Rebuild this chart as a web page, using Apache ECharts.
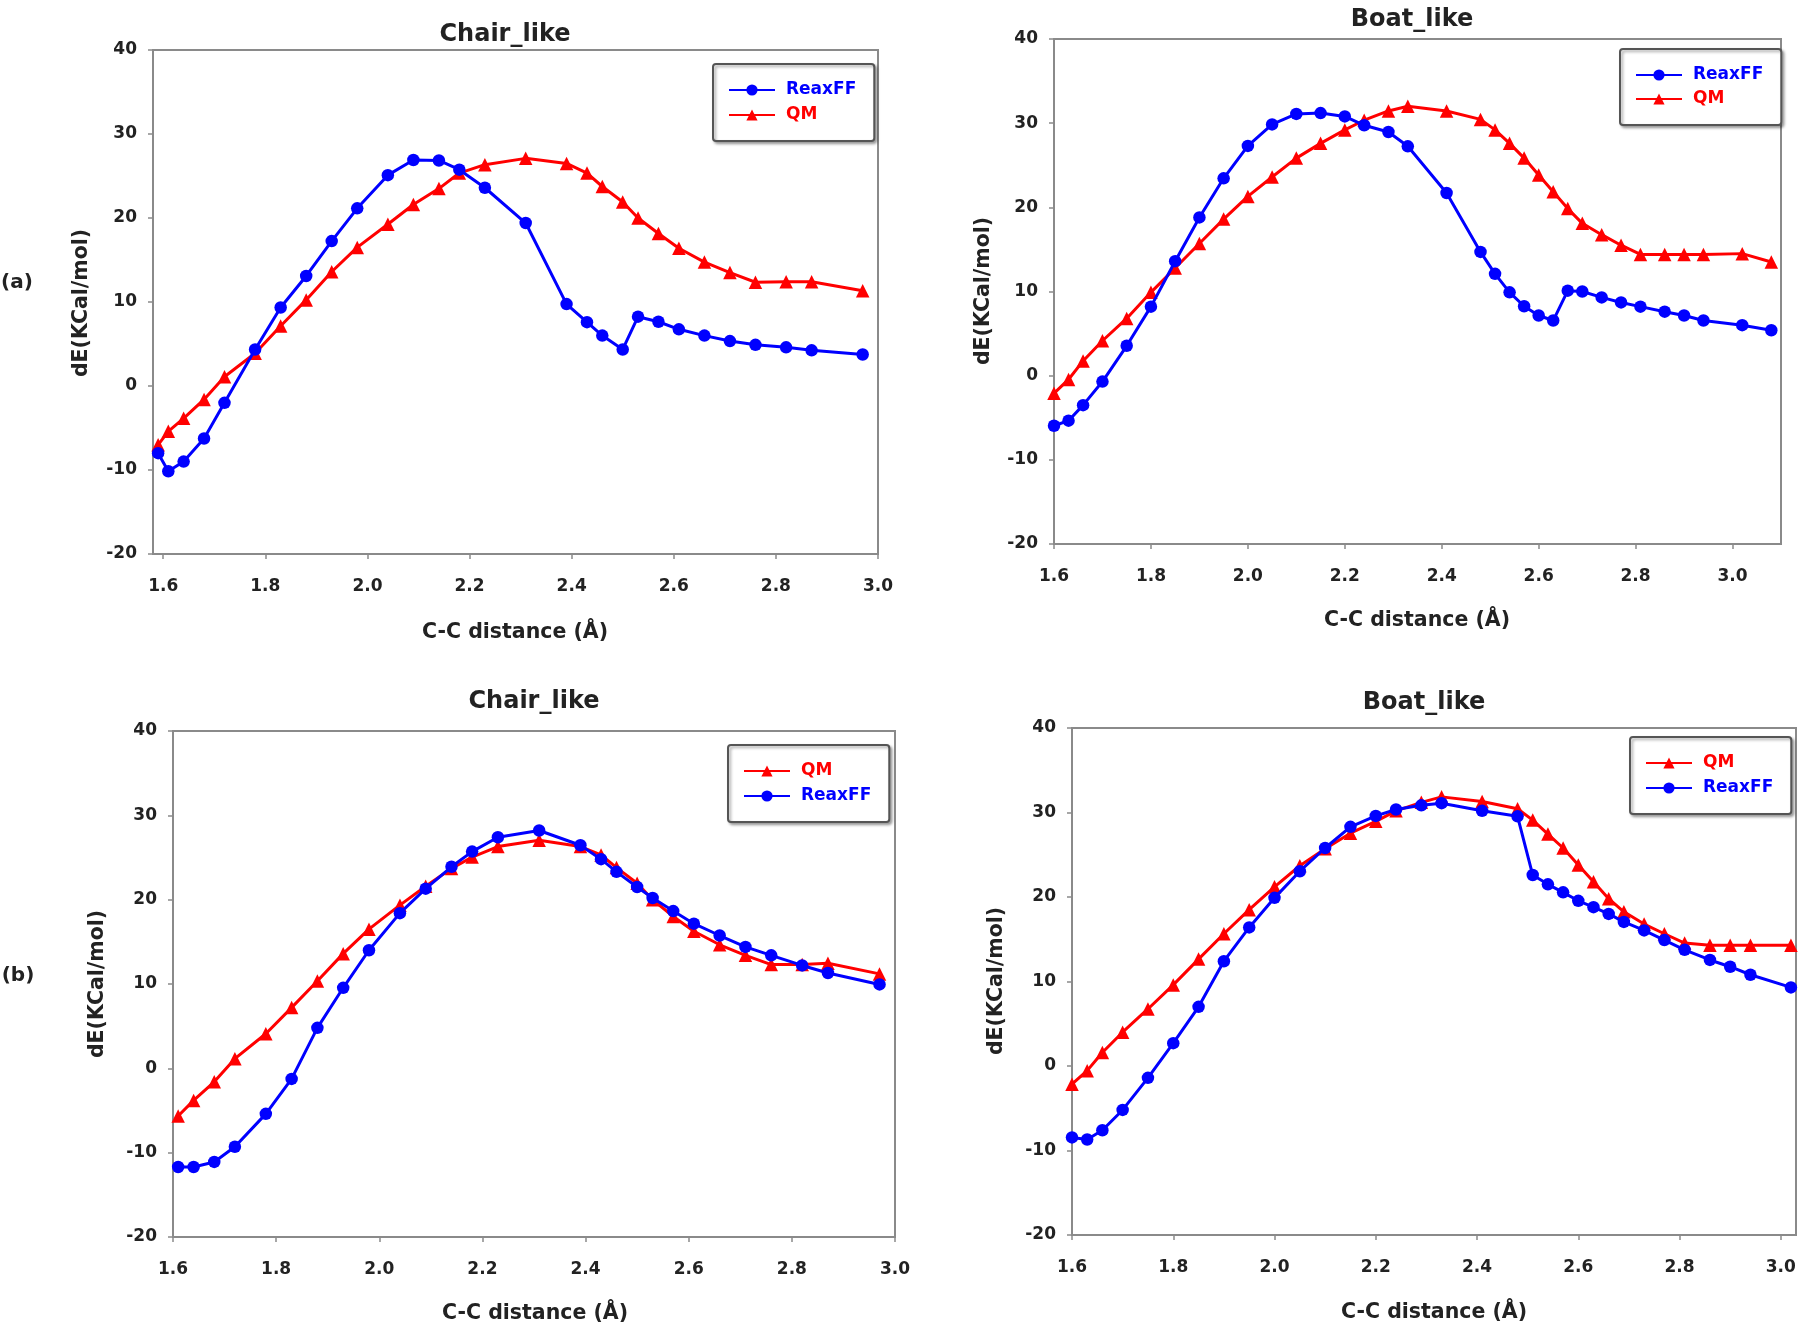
<!DOCTYPE html>
<html>
<head>
<meta charset="utf-8">
<script src="https://cdn.jsdelivr.net/npm/echarts@6/dist/echarts.min.js"></script>
<style>
html,body{margin:0;padding:0;background:#fff;}
#chart{width:1800px;height:1325px;}
</style>
</head>
<body>
<div id="chart"></div>
<script>
// ---------- DATA ----------
const xTicks = [1.6, 1.8, 2.0, 2.2, 2.4, 2.6, 2.8, 3.0];
const yTicks = [-20, -10, 0, 10, 20, 30, 40];

// (a) Chair_like
const chairA_x = [1.59, 1.61, 1.64, 1.68, 1.72, 1.78, 1.83, 1.88, 1.93, 1.98, 2.04, 2.09, 2.14, 2.18, 2.23, 2.31, 2.39, 2.43, 2.46, 2.50, 2.53, 2.57, 2.61, 2.66, 2.71, 2.76, 2.82, 2.87, 2.97];
const chairA_reax = [-8.0, -10.15, -9.0, -6.25, -2.0, 4.35, 9.35, 13.1, 17.25, 21.15, 25.1, 26.9, 26.85, 25.75, 23.6, 19.4, 9.75, 7.6, 6.0, 4.35, 8.25, 7.65, 6.75, 6.0, 5.35, 4.9, 4.6, 4.25, 3.75];
const chairA_qm = [-7.0, -5.4, -3.85, -1.6, 1.1, 3.9, 7.15, 10.25, 13.6, 16.5, 19.25, 21.6, 23.5, 25.35, 26.35, 27.1, 26.5, 25.35, 23.75, 21.9, 20.0, 18.15, 16.4, 14.75, 13.5, 12.35, 12.4, 12.4, 11.35];

// (a) Boat_like
const boatA_x = [1.60, 1.63, 1.66, 1.70, 1.75, 1.80, 1.85, 1.90, 1.95, 2.00, 2.05, 2.10, 2.15, 2.20, 2.24, 2.29, 2.33, 2.41, 2.48, 2.51, 2.54, 2.57, 2.60, 2.63, 2.66, 2.69, 2.73, 2.77, 2.81, 2.86, 2.90, 2.94, 3.02, 3.08];
const boatA_reax = [-5.95, -5.35, -3.5, -0.7, 3.55, 8.2, 13.6, 18.8, 23.45, 27.3, 29.85, 31.1, 31.2, 30.8, 29.75, 28.95, 27.25, 21.7, 14.7, 12.1, 9.9, 8.25, 7.15, 6.55, 10.1, 10.0, 9.3, 8.7, 8.2, 7.6, 7.15, 6.55, 6.0, 5.4];
const boatA_qm = [-2.1, -0.45, 1.75, 4.15, 6.8, 9.9, 12.8, 15.7, 18.6, 21.3, 23.6, 25.85, 27.6, 29.2, 30.35, 31.45, 32.0, 31.45, 30.45, 29.2, 27.6, 25.85, 23.85, 21.85, 19.85, 18.1, 16.75, 15.5, 14.4, 14.4, 14.4, 14.4, 14.5, 13.5];

// (b) Chair_like
const chairB_x = [1.61, 1.64, 1.68, 1.72, 1.78, 1.83, 1.88, 1.93, 1.98, 2.04, 2.09, 2.14, 2.18, 2.23, 2.31, 2.39, 2.43, 2.46, 2.50, 2.53, 2.57, 2.61, 2.66, 2.71, 2.76, 2.82, 2.87, 2.97];
const chairB_qm = [-5.65, -3.8, -1.6, 1.15, 4.1, 7.2, 10.35, 13.6, 16.5, 19.35, 21.6, 23.7, 25.05, 26.3, 27.05, 26.3, 25.3, 23.8, 21.95, 20.0, 18.0, 16.25, 14.65, 13.4, 12.3, 12.3, 12.45, 11.2];
const chairB_reax = [-11.7, -11.7, -11.1, -9.3, -5.4, -1.25, 4.8, 9.55, 14.0, 18.4, 21.3, 23.9, 25.7, 27.4, 28.2, 26.45, 24.8, 23.3, 21.5, 20.2, 18.65, 17.15, 15.75, 14.4, 13.4, 12.2, 11.3, 9.95];

// (b) Boat_like
const boatB_x = [1.60, 1.63, 1.66, 1.70, 1.75, 1.80, 1.85, 1.90, 1.95, 2.00, 2.05, 2.10, 2.15, 2.20, 2.24, 2.29, 2.33, 2.41, 2.48, 2.51, 2.54, 2.57, 2.60, 2.63, 2.66, 2.69, 2.73, 2.77, 2.81, 2.86, 2.90, 2.94, 3.02];
const boatB_qm = [-2.15, -0.55, 1.6, 4.0, 6.75, 9.6, 12.65, 15.65, 18.5, 21.2, 23.7, 25.7, 27.55, 28.95, 30.2, 31.2, 31.85, 31.3, 30.45, 29.1, 27.45, 25.8, 23.8, 21.8, 19.8, 18.25, 16.8, 15.65, 14.55, 14.3, 14.3, 14.3, 14.3];
const boatB_reax = [-8.45, -8.7, -7.6, -5.2, -1.4, 2.7, 7.0, 12.4, 16.4, 19.9, 23.05, 25.8, 28.3, 29.6, 30.35, 30.85, 31.1, 30.2, 29.55, 22.6, 21.5, 20.55, 19.55, 18.8, 18.0, 17.05, 16.05, 14.9, 13.75, 12.55, 11.75, 10.8, 9.3];

const titles = ['Chair_like', 'Boat_like', 'Chair_like', 'Boat_like'];
const xName = 'C-C distance (Å)';
const yName = 'dE(KCal/mol)';
const panelTags = ['(a)', '(b)'];

// ---------- STYLE / LAYOUT ----------
const FONT = '"DejaVu Sans", "Liberation Sans", sans-serif';
const TXT = '#222';
const FRAME = '#8a8a8a';
const BLUE = '#0000ff';
const RED = '#ff0000';

const grids = [
  {left: 153, top: 50, width: 725, height: 504, xmin: 1.58, xmax: 3.0},
  {left: 1054, top: 39, width: 727, height: 505, xmin: 1.6, xmax: 3.1},
  {left: 173, top: 731, width: 722, height: 506, xmin: 1.6, xmax: 3.0},
  {left: 1072, top: 728, width: 724, height: 507, xmin: 1.6, xmax: 3.03}
];

const zip = (xs, ys) => xs.map((x, i) => [x, ys[i]]);

function xAxisFor(i) {
  const g = grids[i];
  return {
    type: 'value', gridIndex: i, min: g.xmin, max: g.xmax,
    splitLine: {show: false},
    axisLine: {show: true, onZero: false, lineStyle: {color: FRAME, width: 2}},
    axisTick: {show: true, inside: false, length: 5, customValues: xTicks, lineStyle: {color: FRAME, width: 1.5}},
    axisLabel: {show: true, customValues: xTicks, margin: 24, formatter: v => Number(v).toFixed(1),
      fontFamily: FONT, fontWeight: 'bold', fontSize: 17, color: TXT}
  };
}
function yAxisFor(i) {
  return {
    type: 'value', gridIndex: i, min: -20, max: 40, interval: 10,
    splitLine: {show: false},
    axisLine: {show: true, onZero: false, lineStyle: {color: FRAME, width: 2}},
    axisTick: {show: true, inside: false, length: 5, lineStyle: {color: FRAME, width: 1.5}},
    axisLabel: {show: true, margin: 16, padding: [7, 0, 0, 0], fontFamily: FONT, fontWeight: 'bold', fontSize: 17, color: TXT}
  };
}
function reaxSeries(i, data) {
  return {
    name: 'ReaxFF', type: 'line', xAxisIndex: i, yAxisIndex: i, data: data,
    symbol: 'circle', symbolSize: 12.5, color: BLUE,
    lineStyle: {color: BLUE, width: 3}, itemStyle: {color: BLUE}, z: 3
  };
}
function qmSeries(i, data) {
  return {
    name: 'QM', type: 'line', xAxisIndex: i, yAxisIndex: i, data: data,
    symbol: 'triangle', symbolSize: 13.5, color: RED,
    lineStyle: {color: RED, width: 3}, itemStyle: {color: RED}, z: 2
  };
}
function legendAt(left, top, order, gap) {
  const items = order.map(n => ({name: n, textStyle: {color: n === 'QM' ? RED : BLUE}}));
  return {
    left: left, top: top, orient: 'vertical', data: items,
    itemWidth: 46, itemHeight: 14, itemGap: gap,
    padding: [16, 18, 16, 15],
    borderColor: '#555', borderWidth: 2, borderRadius: 3,
    shadowColor: 'rgba(0,0,0,0.35)', shadowBlur: 3, shadowOffsetX: 2, shadowOffsetY: 2,
    backgroundColor: '#fff',
    selectedMode: false,
    textStyle: {fontFamily: FONT, fontWeight: 'bold', fontSize: 17, lineHeight: 16, padding: [4, 0, 0, 6]}
  };
}
function txt(x, y, text, size, rot) {
  return {
    type: 'text', x: x, y: y, rotation: rot || 0, z: 100,
    style: {text: text, font: 'bold ' + size + 'px ' + FONT, fill: TXT, align: 'center', verticalAlign: 'middle'}
  };
}

const option = {
  animation: false,
  backgroundColor: '#fff',
  grid: grids.map(g => ({left: g.left, top: g.top, width: g.width, height: g.height,
    show: true, borderColor: FRAME, borderWidth: 2, backgroundColor: 'transparent', containLabel: false})),
  xAxis: [0, 1, 2, 3].map(xAxisFor),
  yAxis: [0, 1, 2, 3].map(yAxisFor),
  legend: [
    legendAt(713, 64, ['ReaxFF', 'QM'], 5),
    legendAt(1620, 49, ['ReaxFF', 'QM'], 4),
    legendAt(728, 745, ['QM', 'ReaxFF'], 5),
    legendAt(1630, 737, ['QM', 'ReaxFF'], 5)
  ],
  series: [
    qmSeries(0, zip(chairA_x, chairA_qm)),
    reaxSeries(0, zip(chairA_x, chairA_reax)),
    qmSeries(1, zip(boatA_x, boatA_qm)),
    reaxSeries(1, zip(boatA_x, boatA_reax)),
    qmSeries(2, zip(chairB_x, chairB_qm)),
    reaxSeries(2, zip(chairB_x, chairB_reax)),
    qmSeries(3, zip(boatB_x, boatB_qm)),
    reaxSeries(3, zip(boatB_x, boatB_reax))
  ],
  graphic: {elements: [
    txt(505, 35, titles[0], 24),
    txt(1412, 19.5, titles[1], 24),
    txt(534, 701.5, titles[2], 24),
    txt(1424, 702.5, titles[3], 24),
    txt(515, 632.5, xName, 20.5),
    txt(1417, 620.5, xName, 20.5),
    txt(535, 1313.5, xName, 20.5),
    txt(1434, 1312.5, xName, 20.5),
    txt(81.5, 303, yName, 20.5, Math.PI / 2),
    txt(983.5, 291, yName, 20.5, Math.PI / 2),
    txt(97.5, 984, yName, 20.5, Math.PI / 2),
    txt(996.5, 981, yName, 20.5, Math.PI / 2),
    txt(17, 282.5, panelTags[0], 20),
    txt(18, 975.5, panelTags[1], 20)
  ]}
};

const chart = echarts.init(document.getElementById('chart'), null, {renderer: 'canvas', width: 1800, height: 1325});
chart.setOption(option);
</script>
</body>
</html>
